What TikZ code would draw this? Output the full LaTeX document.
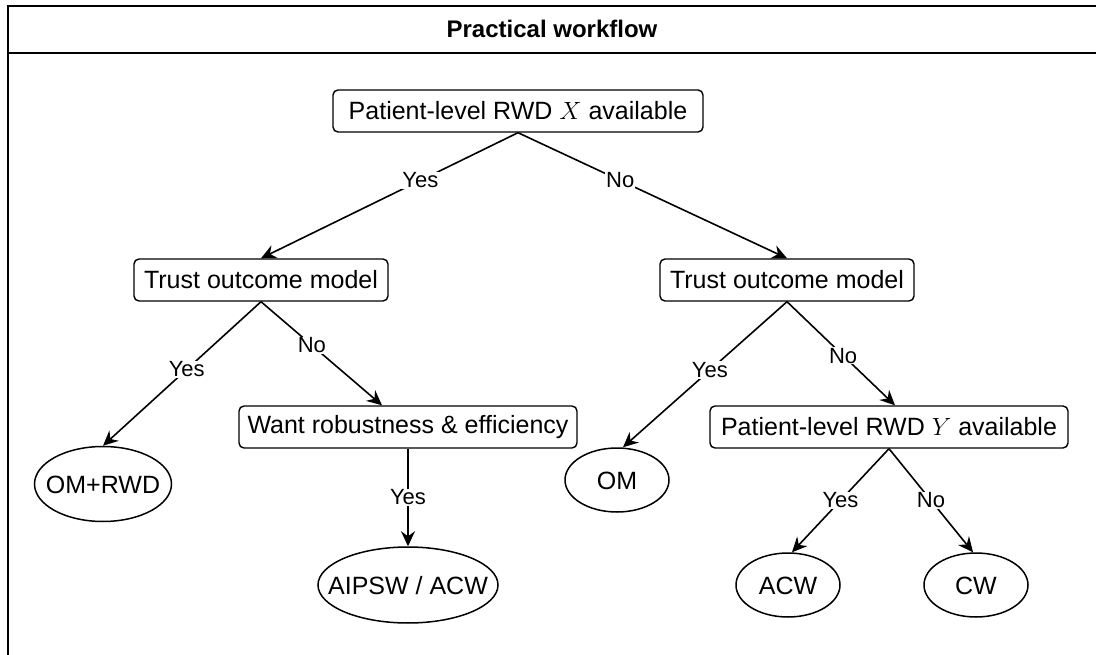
\documentclass[tikz,border=0pt]{standalone}
\usepackage{fontspec}
\setmainfont{Liberation Sans}
\usetikzlibrary{arrows.meta,shapes.geometric,positioning}
\newcommand{\leaftxt}[1]{\raisebox{-0.36em}[0pt][0pt]{\makebox[0pt]{#1}}}
\tikzset{
    framesty/.style={line width=2pt},
    boxsty/.style={draw,rectangle,rounded corners=5pt,line width=1.4pt,minimum height=42pt,inner xsep=2pt,font=\fontsize{25}{29}\selectfont},
    leafsty/.style={draw,ellipse,line width=1.5pt,inner sep=0pt,minimum width=104pt,minimum height=64pt,font=\fontsize{25}{29}\selectfont},
    edgesty/.style={line width=1.6pt,-{Stealth[length=15pt,width=14pt,inset=5pt]}},
    lblsty/.style={fill=white,inner sep=1pt,font=\fontsize{22}{26}\selectfont},
    titlesty/.style={font=\fontsize{24}{28}\selectfont\bfseries},
}

\begin{document}
\begin{tikzpicture}[x=1pt,y=-1pt]
  \useasboundingbox (0,0) rectangle (1096,655);
  % frame and title bar
  \draw[framesty] (1096,6) -- (8,6) -- (8,655);
  \draw[framesty] (8,53) -- (1096,53);
  \node[titlesty] (title) at (552,29) {Practical workflow};

  % decision boxes
  \node[boxsty,minimum width=370pt] (root) at (518,111) {Patient-level RWD $X$ available};
  \node[boxsty,minimum width=254pt] (toml) at (261,280) {Trust outcome model};
  \node[boxsty,minimum width=254pt] (tomr) at (787,280) {Trust outcome model};
  \node[boxsty,minimum width=338pt] (want) at (408,427) {Want robustness \& efficiency};
  \node[boxsty,minimum width=358pt] (ybox) at (889,427) {Patient-level RWD $Y$ available};

  % end points
  \node[leafsty,minimum width=137pt,minimum height=75pt] (omrwd) at (103,484) {\leaftxt{OM+RWD}};
  \node[leafsty,minimum width=180pt,minimum height=76pt] (aipsw) at (408,585) {\leaftxt{AIPSW / ACW}};
  \node[leafsty] (om) at (617,480) {\leaftxt{OM}};
  \node[leafsty] (acw) at (788,585) {\leaftxt{ACW}};
  \node[leafsty] (cw) at (976,585) {\leaftxt{CW}};

  % connectors
  \draw[edgesty] (root.south) -- (toml.north) node[lblsty,pos=0.38]{Yes};
  \draw[edgesty] (root.south) -- (tomr.north) node[lblsty,pos=0.38]{No};
  \draw[edgesty] (toml.south) -- (omrwd.north) node[lblsty,pos=0.47]{Yes};
  \draw[edgesty] (toml.south) -- ([xshift=-26pt]want.north) node[lblsty,pos=0.42]{No};
  \draw[edgesty] (want.south) -- (aipsw.north) node[lblsty,pos=0.5]{Yes};
  \draw[edgesty] (tomr.south) -- ([xshift=6pt]om.north) node[lblsty,pos=0.47]{Yes};
  \draw[edgesty] (tomr.south) -- ([xshift=6pt]ybox.north) node[lblsty,pos=0.52]{No};
  \draw[edgesty] (ybox.south) -- ([xshift=4pt]acw.north) node[lblsty,pos=0.5]{Yes};
  \draw[edgesty] (ybox.south) -- ([xshift=-3pt]cw.north) node[lblsty,pos=0.5]{No};
\end{tikzpicture}
\end{document}
